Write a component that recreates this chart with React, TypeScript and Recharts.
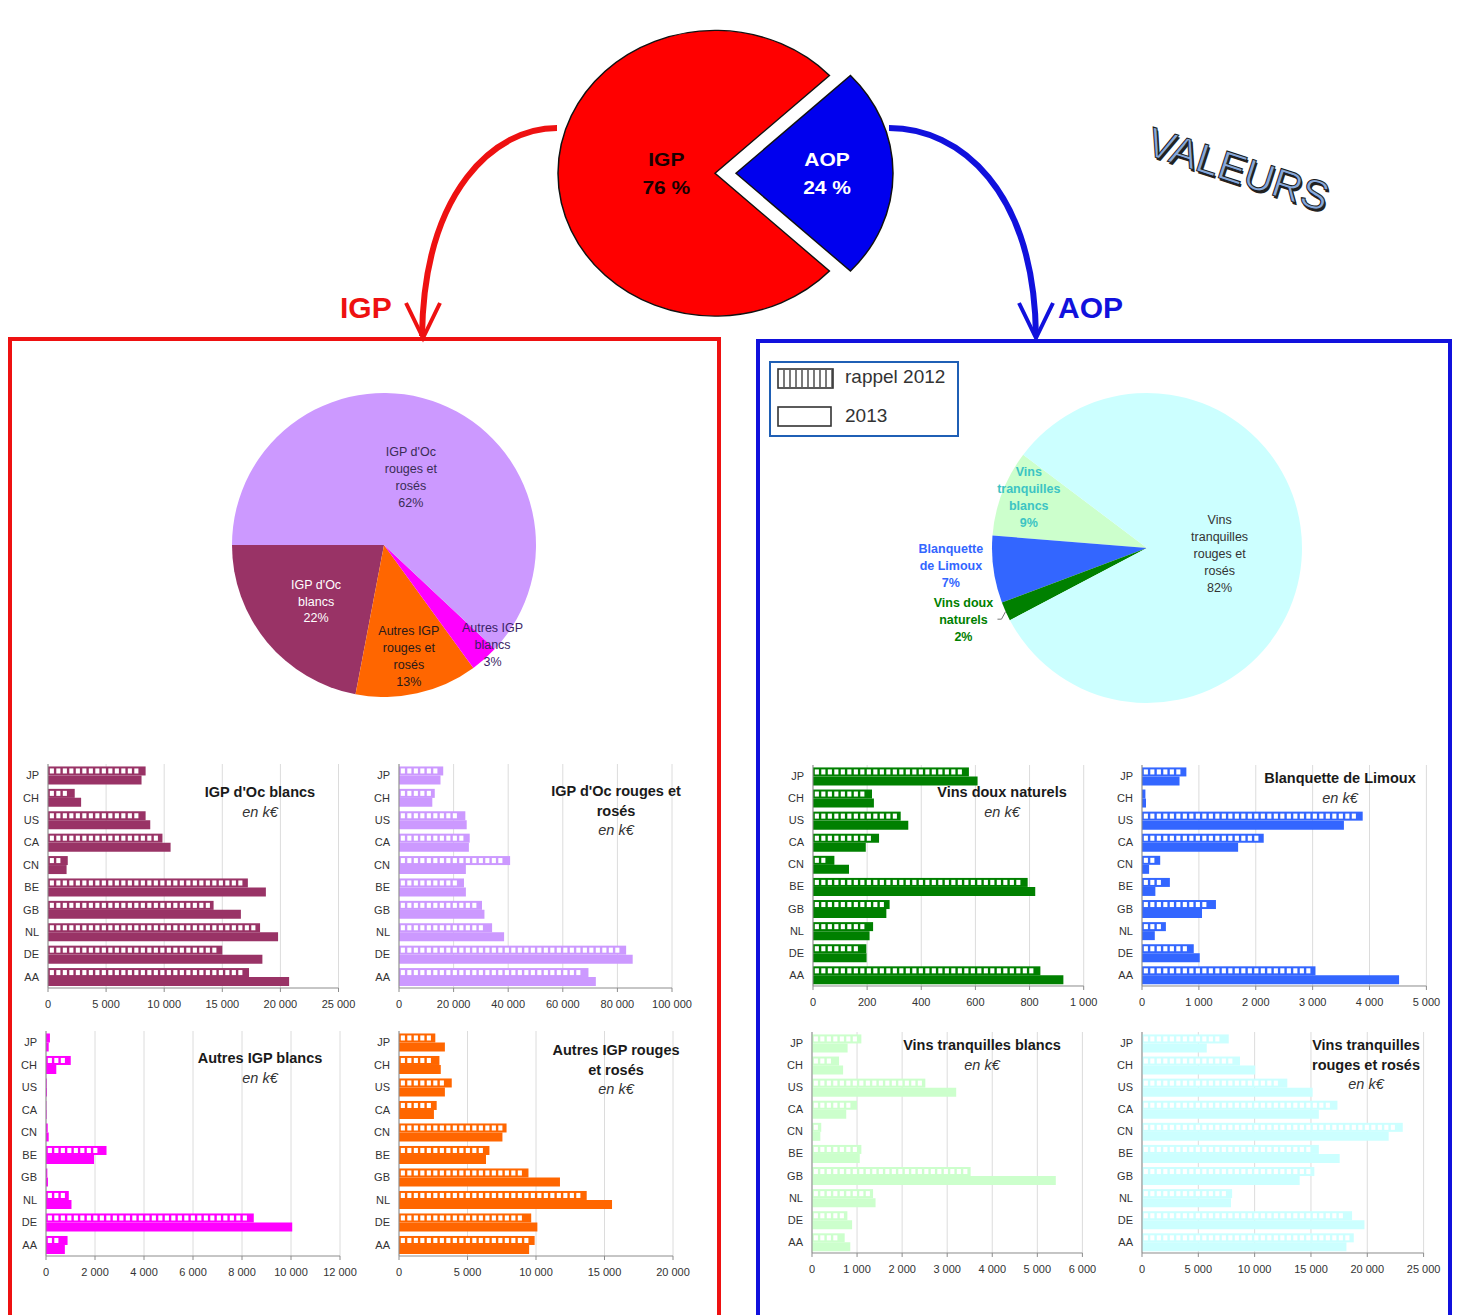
import React from 'react'
import { PieChart, Pie, Cell, BarChart, Bar, XAxis, YAxis, CartesianGrid } from 'recharts'

const FONT = '"Liberation Sans", Arial, Helvetica, sans-serif'
const RAD = Math.PI / 180

// --- top split IGP / AOP ---
const mainNames = ['AOP', 'IGP']
const mainShares = [24, 76]

// --- IGP detail pie ---
const igpNames = ["IGP d'Oc blancs", 'Autres IGP rouges et rosés', 'Autres IGP blancs', "IGP d'Oc rouges et rosés"]
const igpShares = [22, 13, 3, 62]
const igpLabelLines = [["IGP d'Oc", 'blancs'], ['Autres IGP', 'rouges et', 'rosés'], ['Autres IGP', 'blancs'], ["IGP d'Oc", 'rouges et', 'rosés']]

// --- AOP detail pie ---
const aopNames = ['Vins tranquilles blancs', 'Blanquette de Limoux', 'Vins doux naturels', 'Vins tranquilles rouges et rosés']
const aopShares = [9, 7, 2, 82]
const aopLabelLines = [['Vins', 'tranquilles', 'blancs'], ['Blanquette', 'de Limoux'], ['Vins doux', 'naturels'], ['Vins', 'tranquilles', 'rouges et', 'rosés']]

// --- bar charts, k€ per market ---
const countries = ['JP', 'CH', 'US', 'CA', 'CN', 'BE', 'GB', 'NL', 'DE', 'AA']

const ocBlancs2012 = [8400, 2300, 8400, 9850, 1700, 17200, 14250, 18250, 15000, 17300]
const ocBlancs2013 = [8050, 2850, 8800, 10550, 1600, 18750, 16600, 19800, 18450, 20750]
const ocBlancsTicks = [0, 5000, 10000, 15000, 20000, 25000]

const ocRouges2012 = [16200, 13100, 24300, 25900, 40700, 23800, 30400, 34100, 83200, 69400]
const ocRouges2013 = [15200, 12200, 24800, 25600, 24500, 24500, 31300, 38500, 85600, 72100]
const ocRougesTicks = [0, 20000, 40000, 60000, 80000, 100000]

const autresBlancs2012 = [160, 1010, 30, 15, 70, 2470, 55, 930, 8480, 880]
const autresBlancs2013 = [110, 420, 40, 25, 110, 1960, 80, 1040, 10050, 770]
const autresBlancsTicks = [0, 2000, 4000, 6000, 8000, 10000, 12000]

const autresRouges2012 = [2650, 2950, 3850, 2750, 7850, 6600, 9450, 13700, 9650, 9900]
const autresRouges2013 = [3350, 3050, 3350, 2550, 7550, 6350, 11750, 15550, 10100, 9500]
const autresRougesTicks = [0, 5000, 10000, 15000, 20000]

const vdn2012 = [576, 218, 324, 244, 79, 793, 283, 222, 197, 840]
const vdn2013 = [608, 225, 352, 195, 133, 821, 271, 209, 198, 925]
const vdnTicks = [0, 200, 400, 600, 800, 1000]

const blanquette2012 = [780, 60, 3880, 2140, 320, 490, 1300, 420, 910, 3050]
const blanquette2013 = [660, 70, 3550, 1690, 125, 235, 1055, 225, 1015, 4520]
const blanquetteTicks = [0, 1000, 2000, 3000, 4000, 5000]

const tranqBlancs2012 = [1095, 600, 2515, 1000, 205, 1095, 3520, 1355, 785, 725]
const tranqBlancs2013 = [790, 690, 3200, 760, 185, 1060, 5410, 1410, 890, 850]
const tranqBlancsTicks = [0, 1000, 2000, 3000, 4000, 5000, 6000]

const tranqRouges2012 = [7700, 8700, 12900, 17350, 23150, 15700, 15300, 8000, 18650, 18800]
const tranqRouges2013 = [5750, 10050, 15150, 15700, 21900, 17550, 14000, 7900, 19750, 18150]
const tranqRougesTicks = [0, 5000, 10000, 15000, 20000, 25000]

const C = {
  maroon: '#993366',
  lilac: '#cc99ff',
  magenta: '#ff00ff',
  orange: '#ff6600',
  green: '#008000',
  blue: '#3366ff',
  paleGreen: '#ccffcc',
  paleCyan: '#ccffff',
}

const fmt = (v: number) => String(v).replace(/\B(?=(\d{3})+(?!\d))/g, ' ')

const panels = [
  { title: ["IGP d'Oc blancs"], v12: ocBlancs2012, v13: ocBlancs2013, ticks: ocBlancsTicks, color: C.maroon,
    plotLeft: 47.5, plotRight: 338, plotTop: 764, plotBottom: 988, titleX: 260, titleY: 793 },
  { title: ["IGP d'Oc rouges et", 'rosés'], v12: ocRouges2012, v13: ocRouges2013, ticks: ocRougesTicks, color: C.lilac,
    plotLeft: 398.5, plotRight: 671.5, plotTop: 764, plotBottom: 988, titleX: 616, titleY: 792 },
  { title: ['Autres IGP blancs'], v12: autresBlancs2012, v13: autresBlancs2013, ticks: autresBlancsTicks, color: C.magenta,
    plotLeft: 46, plotRight: 340, plotTop: 1031, plotBottom: 1256, titleX: 260, titleY: 1059 },
  { title: ['Autres IGP rouges', 'et rosés'], v12: autresRouges2012, v13: autresRouges2013, ticks: autresRougesTicks, color: C.orange,
    plotLeft: 398.5, plotRight: 672.5, plotTop: 1031, plotBottom: 1256, titleX: 616, titleY: 1051 },
  { title: ['Vins doux naturels'], v12: vdn2012, v13: vdn2013, ticks: vdnTicks, color: C.green,
    plotLeft: 813.3, plotRight: 1084, plotTop: 765, plotBottom: 986, titleX: 1002, titleY: 793 },
  { title: ['Blanquette de Limoux'], v12: blanquette2012, v13: blanquette2013, ticks: blanquetteTicks, color: C.blue,
    plotLeft: 1142.3, plotRight: 1426.7, plotTop: 765, plotBottom: 986, titleX: 1340, titleY: 779 },
  { title: ['Vins tranquilles blancs'], v12: tranqBlancs2012, v13: tranqBlancs2013, ticks: tranqBlancsTicks, color: C.paleGreen,
    plotLeft: 812.3, plotRight: 1082.7, plotTop: 1032, plotBottom: 1253, titleX: 982, titleY: 1046 },
  { title: ['Vins tranquilles', 'rouges et rosés'], v12: tranqRouges2012, v13: tranqRouges2013, ticks: tranqRougesTicks, color: C.paleCyan,
    plotLeft: 1141.7, plotRight: 1423.3, plotTop: 1032, plotBottom: 1253, titleX: 1366, titleY: 1046 },
]

// 2012 bars: coloured bar with white window squares
function HatchBar(props: any) {
  const { x, y, width, height, fill } = props
  if (!width || width <= 0) return null
  const step = 6.5
  const inset = height * 0.22
  const n = Math.floor((width - 2.5) / step)
  const squares = []
  for (let k = 0; k < n; k++) {
    squares.push(
      <rect key={k} x={x + 1.8 + k * step} y={y + inset} width={4.1} height={height - 2 * inset} fill="#fff" />
    )
  }
  return (
    <g>
      <rect x={x} y={y} width={width} height={height} fill={fill} />
      {squares}
    </g>
  )
}

function Panel({ p }: { p: any }) {
  const rows = countries.map((c, i) => ({ country: c, y2012: p.v12[i], y2013: p.v13[i] }))
  const yw = 34
  const left = p.plotLeft - yw
  const top = p.plotTop - 4
  const width = p.plotRight - left + 22
  const height = p.plotBottom - top + 28
  const max = p.ticks[p.ticks.length - 1]
  return (
    <>
      <div style={{ position: 'absolute', left, top }}>
        <BarChart width={width} height={height} data={rows} layout="vertical"
          margin={{ top: 4, right: 22, left: 0, bottom: 0 }} barGap={0} barCategoryGap="11%">
          <CartesianGrid horizontal={false} stroke="#dcdcdc" />
          <XAxis type="number" domain={[0, max]} ticks={p.ticks} tickFormatter={fmt} height={28}
            interval={0} axisLine={{ stroke: '#8c8c8c' }} tickLine={{ stroke: '#8c8c8c' }} tickSize={4} tickMargin={8}
            tick={{ fill: '#333', fontSize: 11, fontFamily: FONT }} />
          <YAxis type="category" dataKey="country" width={yw} axisLine={{ stroke: '#8c8c8c' }} tickLine={false}
            tickSize={4} tickMargin={5} interval={0} tick={{ fill: '#333', fontSize: 11, fontFamily: FONT }} />
          <Bar dataKey="y2012" fill={p.color} shape={(s: any) => <HatchBar {...s} fill={p.color} />} isAnimationActive={false} />
          <Bar dataKey="y2013" fill={p.color} isAnimationActive={false} />
        </BarChart>
      </div>
      <div style={{ position: 'absolute', left: p.titleX - 110, top: p.titleY - 10, width: 220, textAlign: 'center',
        fontSize: 14.5, lineHeight: '19.5px', color: '#1a1a1a' }}>
        {p.title.map((t: string) => <div key={t} style={{ fontWeight: 'bold' }}>{t}</div>)}
        <div style={{ fontStyle: 'italic', color: '#333' }}>en k€</div>
      </div>
    </>
  )
}

function sliceLabel(opts: { lines: string[][]; values: number[]; pctSep: string; factors: number[]; colors: string[];
  weights: string[]; fontSize: number; lh: number; only?: number; leader?: number; shifts?: number[] }) {
  return (p: any) => {
    const i = p.index
    if (opts.only !== undefined && i !== opts.only) return null
    const r = p.outerRadius * opts.factors[i]
    const ang = p.midAngle + (opts.shifts ? opts.shifts[i] : 0)
    const x = p.cx + r * Math.cos(-ang * RAD)
    const y = p.cy + r * Math.sin(-ang * RAD)
    const all = [...opts.lines[i], `${opts.values[i]}${opts.pctSep}%`]
    const y0 = y - ((all.length - 1) * opts.lh) / 2
    const ex = p.cx + p.outerRadius * Math.cos(-p.midAngle * RAD)
    const ey = p.cy + p.outerRadius * Math.sin(-p.midAngle * RAD)
    return (
      <g>
        {opts.leader === i && (
          <polyline points={`${x + 34},${y} ${x + 38},${y} ${ex},${ey}`} fill="none" stroke="#777" strokeWidth={1} />
        )}
        <text x={x} y={y0} textAnchor="middle" fill={opts.colors[i]} fontSize={opts.fontSize}
          fontWeight={opts.weights[i]} fontFamily={FONT}>
          {all.map((t, k) => (
            <tspan key={k} x={x} y={y0 + k * opts.lh} dy="0.35em">{t}</tspan>
          ))}
        </text>
      </g>
    )
  }
}

function MainPie() {
  const data = mainNames.map((n, i) => ({ name: n, value: mainShares[i] }))
  const common = {
    data, dataKey: 'value', nameKey: 'name', cy: 170, outerRadius: 157,
    startAngle: 43.2, endAngle: -316.8, labelLine: false, isAnimationActive: false,
  }
  const lines = [['AOP'], ['IGP']]
  return (
    <div style={{ position: 'absolute', left: 510, top: 14, transform: 'scaleY(0.91)', transformOrigin: 'top left' }}>
      <PieChart width={440} height={340}>
        <Pie {...common} cx={200}
          label={sliceLabel({ lines, values: mainShares, pctSep: ' ', factors: [0.58, 0.31], colors: ['#fff', '#1a0000'],
            weights: ['bold', 'bold'], fontSize: 21, lh: 30, only: 1 })}>
          <Cell fill="transparent" stroke="none" />
          <Cell fill="#ff0000" stroke="#111" strokeWidth={1.5} />
        </Pie>
        <Pie {...common} cx={221}
          label={sliceLabel({ lines, values: mainShares, pctSep: ' ', factors: [0.58, 0.31], colors: ['#fff', '#1a0000'],
            weights: ['bold', 'bold'], fontSize: 21, lh: 30, only: 0 })}>
          <Cell fill="#0000ee" stroke="#111" strokeWidth={1.5} />
          <Cell fill="transparent" stroke="none" />
        </Pie>
      </PieChart>
    </div>
  )
}

function IgpPie() {
  const data = igpNames.map((n, i) => ({ name: n, value: igpShares[i] }))
  const colors = [C.maroon, C.orange, C.magenta, C.lilac]
  return (
    <div style={{ position: 'absolute', left: 215, top: 387 }}>
      <PieChart width={330} height={310}>
        <Pie data={data} dataKey="value" nameKey="name" cx={164} cy={153} outerRadius={152}
          startAngle={180} endAngle={540} labelLine={false} isAnimationActive={false}
          label={sliceLabel({ lines: igpLabelLines, values: igpShares, pctSep: '', factors: [0.58, 0.75, 0.97, 0.48],
            colors: ['#ffffff', '#2a1a1a', '#3a1f66', '#3a2d55'], weights: ['normal', 'normal', 'normal', 'normal'],
            fontSize: 12.5, lh: 16.8, shifts: [0, 0, 6, 0] })}>
          {colors.map((c) => <Cell key={c} fill={c} stroke="none" />)}
        </Pie>
      </PieChart>
    </div>
  )
}

function AopPie() {
  const data = aopNames.map((n, i) => ({ name: n, value: aopShares[i] }))
  const colors = [C.paleGreen, C.blue, C.green, C.paleCyan]
  return (
    <div style={{ position: 'absolute', left: 876, top: 375 }}>
      <PieChart width={440} height={340}>
        <Pie data={data} dataKey="value" nameKey="name" cx={266} cy={168} outerRadius={155}
          startAngle={143} endAngle={503} labelLine={false} isAnimationActive={false}
          label={sliceLabel({ lines: aopLabelLines, values: aopShares, pctSep: '', factors: [0.83, 1.27, 1.27, 0.47],
            colors: ['#3cc4c4', '#3366ff', '#008000', '#333333'], weights: ['bold', 'bold', 'bold', 'normal'],
            fontSize: 12.5, lh: 17, leader: 2, shifts: [-2.4, -3, -3, 0] })}>
          {colors.map((c) => <Cell key={c} fill={c} stroke="none" />)}
        </Pie>
      </PieChart>
    </div>
  )
}

function Legend2012() {
  const lines = []
  for (let k = 0; k < 9; k++) lines.push(<line key={k} x1={7 + k * 6} y1={2} x2={7 + k * 6} y2={19} stroke="#333" strokeWidth={1.3} />)
  return (
    <div style={{ position: 'absolute', left: 769, top: 361, width: 190, height: 76, border: '2px solid #1f5fb5',
      boxSizing: 'border-box', background: '#fff' }}>
      <svg width={58} height={22} style={{ position: 'absolute', left: 6, top: 5 }}>
        <rect x={1} y={1} width={55} height={19} fill="#fff" stroke="#333" strokeWidth={1.6} />
        {lines}
      </svg>
      <div style={{ position: 'absolute', left: 74, top: 3, fontSize: 19, color: '#333' }}>rappel 2012</div>
      <svg width={58} height={22} style={{ position: 'absolute', left: 6, top: 43 }}>
        <rect x={1} y={1} width={53} height={19} fill="#fff" stroke="#333" strokeWidth={1.6} />
      </svg>
      <div style={{ position: 'absolute', left: 74, top: 42, fontSize: 19, color: '#333' }}>2013</div>
    </div>
  )
}

export default function App() {
  return (
    <div style={{ position: 'absolute', left: 0, top: 0, width: 1458, height: 1315, overflow: 'hidden',
      background: '#fff', fontFamily: FONT }}>
      <svg width={1458} height={1315} style={{ position: 'absolute', left: 0, top: 0 }}>
        <path d="M557,128 C495,128 424,190 422,336" fill="none" stroke="#ee1111" strokeWidth={6} />
        <polyline points="406,303 423,338 440,303" fill="none" stroke="#ee1111" strokeWidth={4} />
        <path d="M889,128 C960,128 1034,190 1036,336" fill="none" stroke="#1111dd" strokeWidth={6} />
        <polyline points="1019,303 1036,338 1053,303" fill="none" stroke="#1111dd" strokeWidth={4} />
        <rect x={10} y={339} width={709} height={1000} fill="none" stroke="#ee1111" strokeWidth={4} />
        <rect x={758} y={341} width={692} height={1000} fill="none" stroke="#1111dd" strokeWidth={4} />
      </svg>
      <div style={{ position: 'absolute', left: 340, top: 291, fontSize: 30, fontWeight: 'bold', color: '#ee1111' }}>IGP</div>
      <div style={{ position: 'absolute', left: 1058, top: 291, fontSize: 30, fontWeight: 'bold', color: '#1111dd' }}>AOP</div>
      <div style={{ position: 'absolute', left: 1238, top: 170, transform: 'translate(-50%, -50%) rotate(18deg)',
        fontSize: 41, color: '#86a8dc', WebkitTextStroke: '1px #1a1a1a', textShadow: '2px 2px 0 #222', whiteSpace: 'nowrap' }}>
        VALEURS
      </div>
      <MainPie />
      <IgpPie />
      <AopPie />
      <Legend2012 />
      {panels.map((p) => <Panel key={p.title[0]} p={p} />)}
    </div>
  )
}
